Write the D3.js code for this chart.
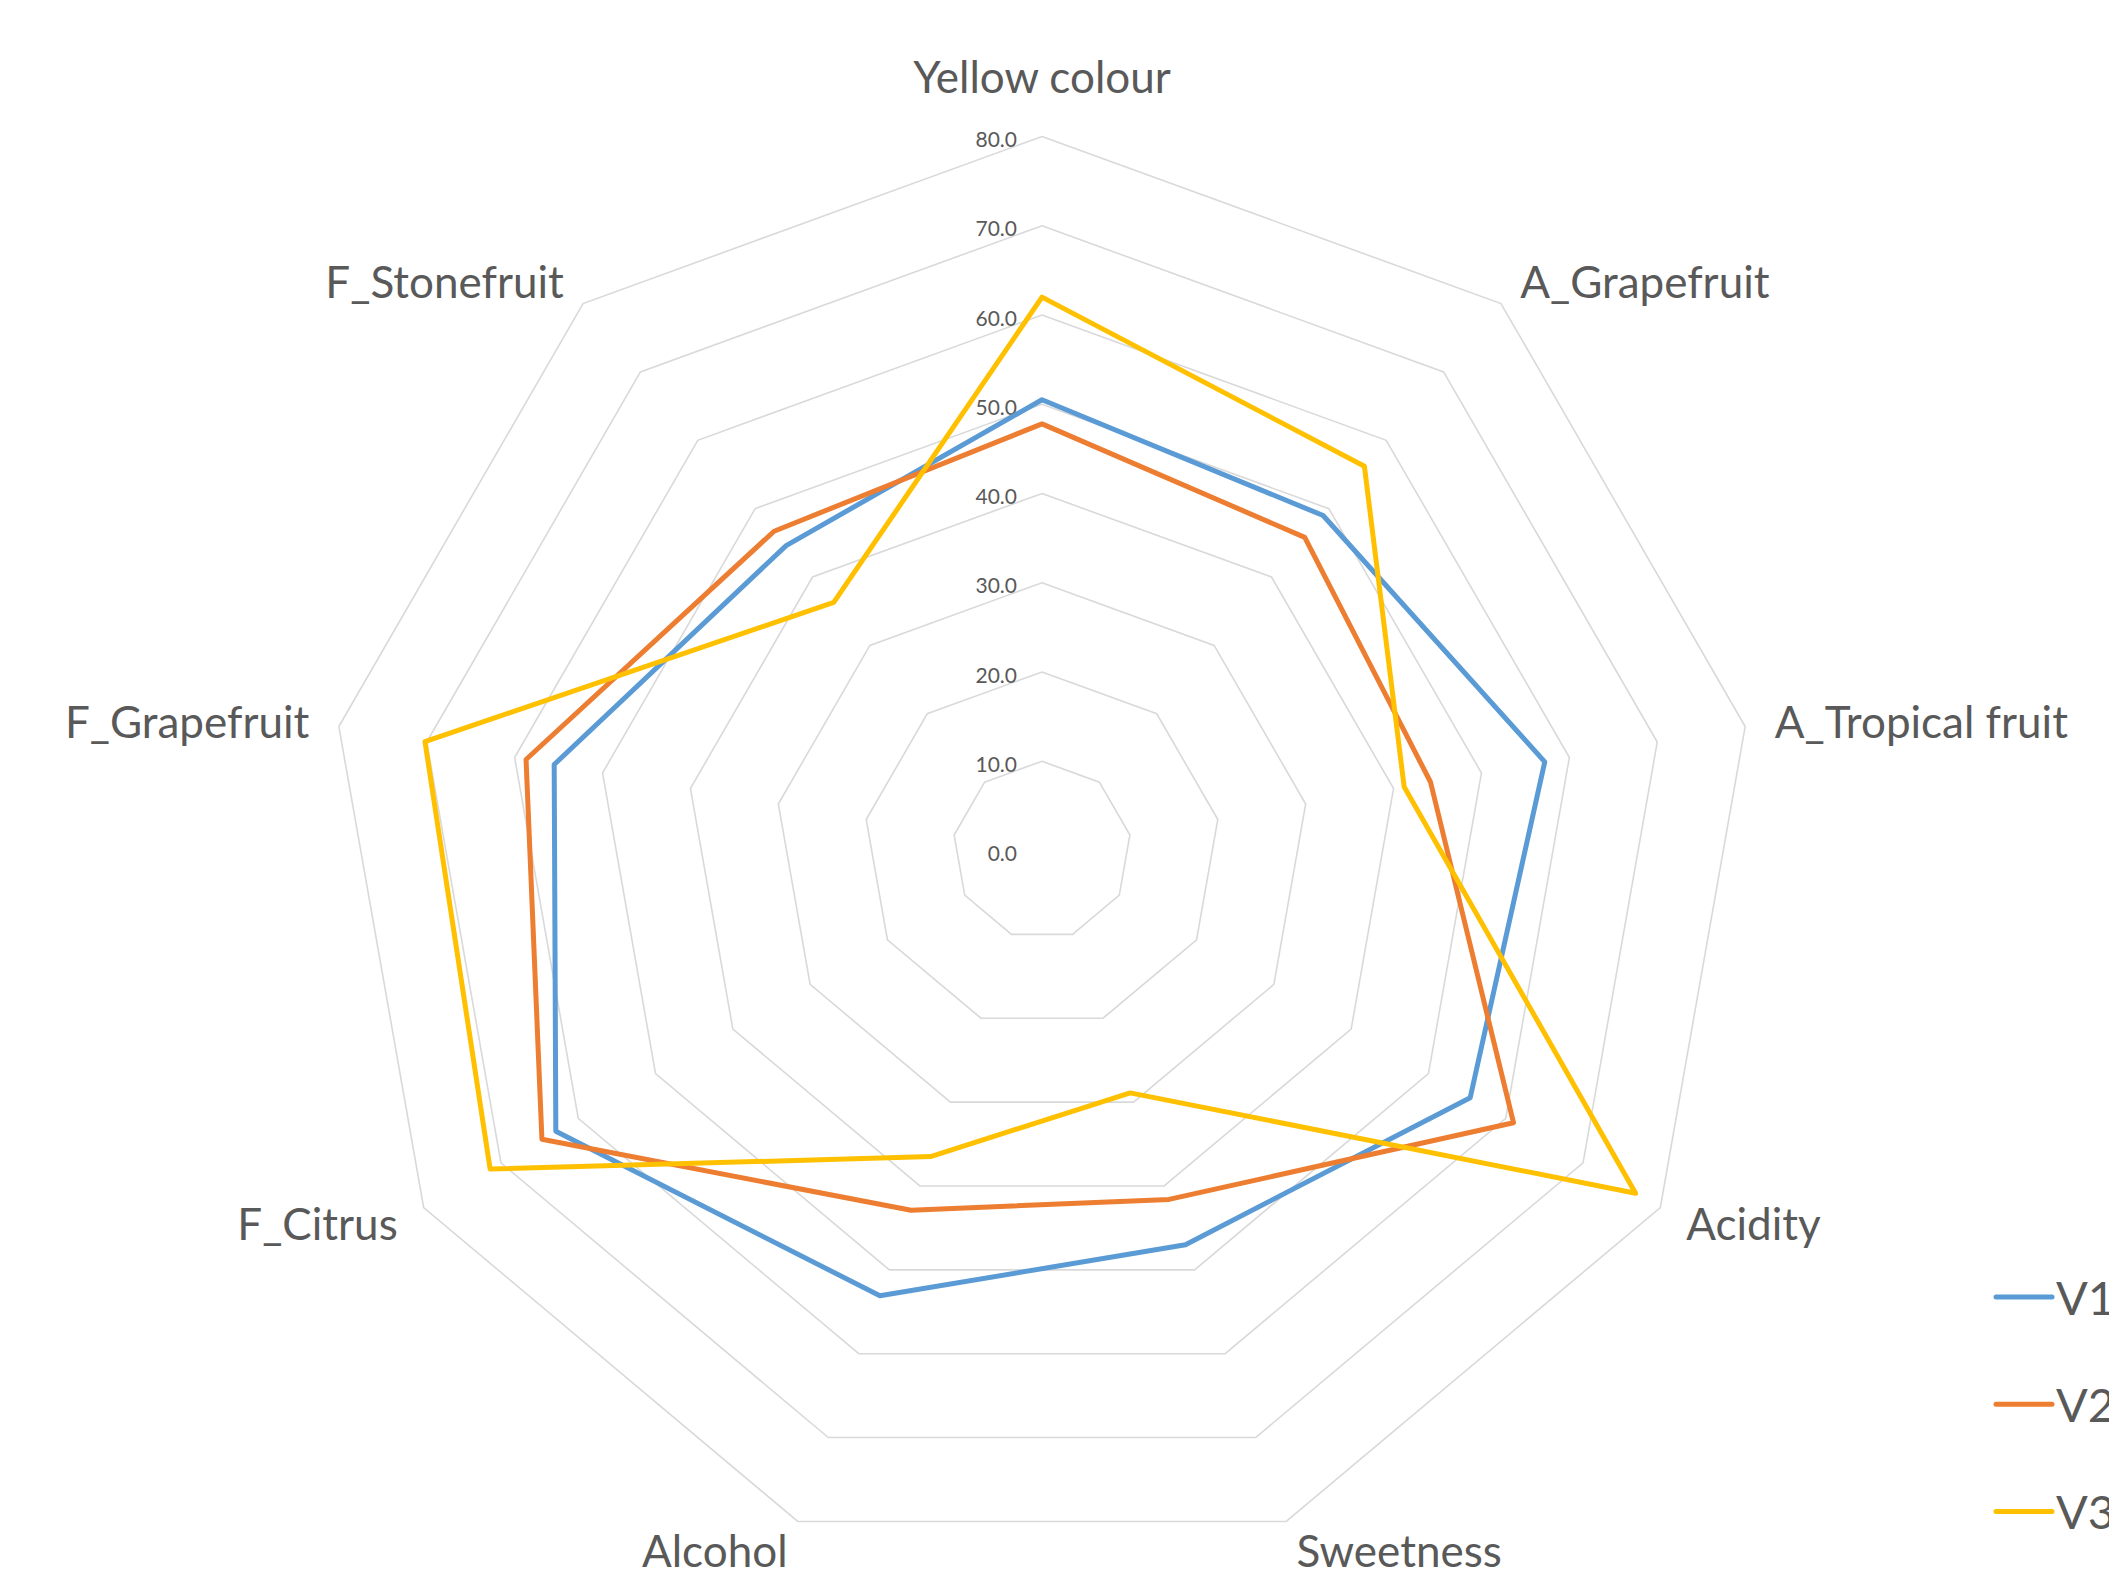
<!DOCTYPE html>
<html>
<head>
<meta charset="utf-8">
<script src="https://cdn.jsdelivr.net/npm/d3@7"></script>
<style>
  html, body { margin: 0; padding: 0; background: #ffffff; overflow: hidden; }
  svg { display: block; }
</style>
</head>
<body>
<svg id="chart" width="2109" height="1573"></svg>
<script>
// Sensory attributes around the radar
const categories = ["Yellow colour", "A_Grapefruit", "A_Tropical fruit", "Acidity",
  "Sweetness", "Alcohol", "F_Citrus", "F_Grapefruit", "F_Stonefruit"];

// Mean scores per sample
const seriesNames = ["V1", "V2", "V3"];
const v1 = [50.5, 49.0, 57.2, 55.4, 47.0, 53.1, 62.9, 55.5, 44.6];
const v2 = [47.8, 45.8, 44.2, 61.0, 41.6, 42.9, 64.7, 58.7, 46.7];
const v3 = [62.0, 56.2, 41.2, 76.8, 28.9, 36.5, 71.4, 70.2, 36.3];

// Radial axis ticks
const tickValues = [0, 10, 20, 30, 40, 50, 60, 70, 80];

const colors = ["#5B9BD5", "#ED7D31", "#FFC000"];
const series = [v1, v2, v3];

const svg = d3.select("#chart");
const cx = 1042, cy = 850.5, R = 714;
const fontFamily = "Lato, 'Open Sans', sans-serif";

const r = d3.scaleLinear().domain([0, 80]).range([0, R]);
const angle = d3.scaleLinear().domain([0, categories.length]).range([0, 2 * Math.PI]);

const g = svg.append("g").attr("transform", `translate(${cx},${cy})`);

// Gridline rings (nonagons)
const ringLine = d3.lineRadial()
  .angle((d, i) => angle(i))
  .radius(d => r(d))
  .curve(d3.curveLinearClosed);

g.append("g").attr("class", "grid")
  .selectAll("path")
  .data(tickValues.filter(t => t > 0))
  .join("path")
  .attr("d", t => ringLine(categories.map(() => t)))
  .attr("fill", "none")
  .attr("stroke", "#D9D9D9")
  .attr("stroke-width", 1.6);

// Tick labels along the top axis
g.append("g").attr("class", "ticks")
  .selectAll("text")
  .data(tickValues)
  .join("text")
  .attr("x", -25)
  .attr("y", t => -r(t) + 2)
  .attr("text-anchor", "end")
  .attr("dominant-baseline", "central")
  .attr("font-family", fontFamily)
  .attr("font-size", 21)
  .attr("fill", "#595959")
  .text(t => d3.format(".1f")(t));

// Category labels outside the outer ring
const labelPad = 30;
g.append("g").attr("class", "axis-labels")
  .selectAll("text")
  .data(categories)
  .join("text")
  .each(function (d, i) {
    const a = angle(i);
    const s = Math.sin(a), c = Math.cos(a);
    let x = (R + labelPad) * s;
    let y = -(R + labelPad) * c;
    let anchor = "middle";
    if (s > 0.1) anchor = "start";
    else if (s < -0.1) anchor = "end";
    else y += (c > 0 ? -31 : 31);
    d3.select(this)
      .attr("x", x)
      .attr("y", y)
      .attr("text-anchor", anchor)
      .attr("dominant-baseline", "central");
  })
  .attr("font-family", fontFamily)
  .attr("font-size", 44)
  .attr("fill", "#595959")
  .text(d => d);

// Series outlines
const seriesLine = d3.lineRadial()
  .angle((d, i) => angle(i))
  .radius(d => r(d))
  .curve(d3.curveLinearClosed);

g.append("g").attr("class", "series")
  .selectAll("path")
  .data(series)
  .join("path")
  .attr("d", d => seriesLine(d))
  .attr("fill", "none")
  .attr("stroke", (d, i) => colors[i])
  .attr("stroke-width", 5)
  .attr("stroke-linejoin", "round")
  .attr("stroke-linecap", "round");

// Legend
const legend = svg.append("g").attr("class", "legend")
  .attr("transform", "translate(1996,1297)");
const items = legend.selectAll("g")
  .data(seriesNames)
  .join("g")
  .attr("transform", (d, i) => `translate(0,${i * 107.2})`);
items.append("line")
  .attr("x1", 0).attr("x2", 56)
  .attr("y1", 0).attr("y2", 0)
  .attr("stroke", (d, i) => colors[i])
  .attr("stroke-width", 5)
  .attr("stroke-linecap", "round");
items.append("text")
  .attr("x", 60)
  .attr("y", 0)
  .attr("dominant-baseline", "central")
  .attr("font-family", fontFamily)
  .attr("font-size", 47)
  .attr("fill", "#595959")
  .text(d => d);
</script>
</body>
</html>
